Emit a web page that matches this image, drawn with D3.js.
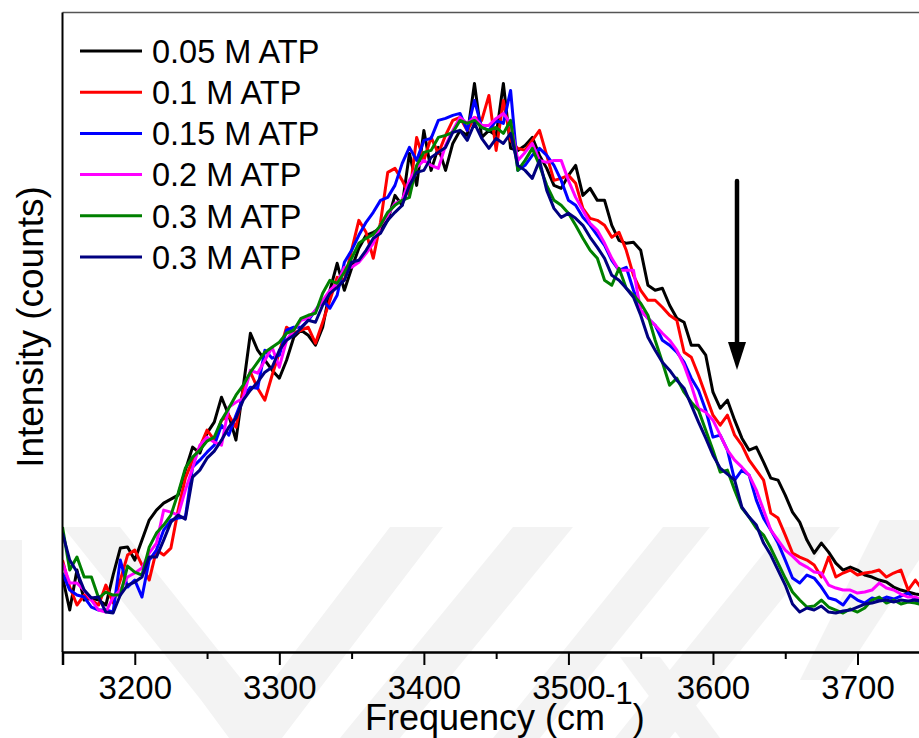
<!DOCTYPE html>
<head>
    <meta charset="utf-8">
    <script src="https://d3js.org/d3.v7.min.js"></script>
    <style>
      body { margin: 0; background: #fff; }
      text {
        font-family: "Liberation Sans", Arial, sans-serif;
        fill: #000;
      }
    </style>
</head>
<body>
    <script>
        var svg_w = 919
        var svg_h = 738

        // wavenumber grid (cm-1)
        var freq = [3150,3155,3160,3165,3170,3175,3180,3185,3190,3195,
                    3200,3205,3210,3215,3220,3225,3230,3235,3240,3245,
                    3250,3255,3260,3265,3270,3275,3280,3285,3290,3295,
                    3300,3305,3310,3315,3320,3325,3330,3335,3340,3345,
                    3350,3355,3360,3365,3370,3375,3380,3385,3390,3395,
                    3400,3405,3410,3415,3420,3425,3430,3435,3440,3445,
                    3450,3455,3460,3465,3470,3475,3480,3485,3490,3495,
                    3500,3505,3510,3515,3520,3525,3530,3535,3540,3545,
                    3550,3555,3560,3565,3570,3575,3580,3585,3590,3595,
                    3600,3605,3610,3615,3620,3625,3630,3635,3640,3645,
                    3650,3655,3660,3665,3670,3675,3680,3685,3690,3695,
                    3700,3705,3710,3715,3720,3725,3730,3735,3740,3745]

        var atp005 = [75,42,82,52,54,52,47,77,104,105,
                      92,112,132,142,149,153,157,182,205,199,
                      219,230,255,237,212,265,319,302,292,282,
                      274,292,315,322,317,307,325,362,389,362,
                      384,404,417,420,424,432,457,447,499,467,
                      522,482,505,482,509,522,517,569,515,522,
                      517,569,504,502,507,515,497,484,467,464,
                      477,487,457,464,452,452,427,412,409,410,
                      402,367,362,364,347,334,330,307,307,297,
                      260,244,252,232,214,202,205,190,174,172,
                      157,140,130,112,99,109,100,89,82,85,
                      82,77,75,72,70,65,62,60,58,57]
        var atp01 = [92,65,47,57,52,47,67,49,72,97,
                     102,87,72,102,97,104,142,174,192,205,
                     222,212,232,237,225,262,280,264,252,277,
                     300,325,319,322,325,309,330,352,375,372,
                     402,432,420,394,430,480,484,472,457,515,
                     492,515,499,517,532,535,522,535,532,557,
                     502,552,512,504,502,512,522,497,472,474,
                     477,469,444,434,432,427,415,420,402,377,
                     362,352,352,345,337,332,300,295,277,257,
                     237,227,237,217,207,192,182,172,139,134,
                     117,99,95,92,87,75,95,75,79,82,
                     77,79,80,82,75,79,82,62,72,62]
        var atp015 = [79,62,57,55,45,42,42,40,92,65,
                      72,55,92,102,122,132,134,135,185,192,
                      200,207,227,217,237,255,265,264,302,294,
                      297,322,325,325,332,342,352,344,357,390,
                      402,417,430,440,452,455,467,489,505,492,
                      512,514,532,534,537,539,522,552,525,522,
                      532,529,562,482,487,497,504,497,487,472,
                      452,447,435,427,417,407,392,382,385,362,
                      342,334,327,312,307,300,290,274,262,242,
                      215,217,202,172,182,177,152,134,122,109,
                      92,74,69,77,74,65,54,52,47,57,
                      52,49,54,52,55,53,56,59,52,47]
        var atp02 = [89,69,69,62,52,42,40,55,62,75,
                     79,84,99,109,142,140,137,162,184,207,
                     215,210,207,245,250,254,282,279,292,305,
                     285,312,322,332,334,342,352,362,369,385,
                     385,390,399,409,427,437,449,452,472,485,
                     492,487,484,507,522,535,529,535,527,527,
                     534,539,529,492,500,509,492,490,492,492,
                     472,455,442,429,422,409,394,382,382,382,
                     342,334,327,319,312,302,287,267,244,240,
                     232,217,202,192,185,177,162,142,122,112,
                     102,96,89,85,80,79,67,64,62,62,
                     59,60,62,69,64,62,58,55,55,52]
        var atp03a = [125,82,95,75,75,54,60,57,57,86,
                      80,77,105,119,127,137,159,184,195,202,
                      211,215,232,244,257,267,280,290,300,305,
                      310,319,322,334,337,339,359,372,369,380,
                      394,409,414,418,427,440,447,452,455,487,
                      500,502,515,517,520,532,529,532,525,522,
                      525,519,532,482,492,504,487,467,452,447,
                      439,427,414,402,394,372,367,384,364,357,
                      349,337,312,290,267,274,260,250,242,222,
                      202,180,182,162,144,135,124,117,104,89,
                      74,60,52,45,46,52,45,42,39,43,
                      40,44,52,55,49,52,48,50,49,47]
        var atp03b = [119,92,80,62,54,55,40,39,57,67,
                      70,75,95,95,112,130,137,133,175,182,
                      194,201,212,225,234,252,262,270,280,285,
                      302,312,317,324,332,330,347,359,365,372,
                      390,392,402,414,419,432,440,447,467,480,
                      482,495,500,505,520,522,512,529,514,504,
                      514,509,519,487,482,474,492,462,444,435,
                      439,434,427,415,405,394,377,372,364,355,
                      337,315,302,290,282,272,264,247,230,214,
                      197,184,178,172,145,135,127,109,97,82,
                      67,48,40,44,42,46,40,39,41,42,
                      45,48,49,51,52,50,52,51,52,51]

        var seriesNames = ["0.05 M ATP","0.1 M ATP","0.15 M ATP","0.2 M ATP","0.3 M ATP","0.3 M ATP"]
        var seriesValues = [atp005, atp01, atp015, atp02, atp03a, atp03b]
        var seriesColors = ["#000000","#ff0000","#0000ff","#ff00ff","#008000","#000080"]

        var majorTicks = [3200,3300,3400,3500,3600,3700]
        var minorTicks = [3150,3250,3350,3450,3550,3650,3750]

        var plot = {left: 62.5, right: 929.8, top: 12.5, bottom: 652}

        var svg = d3.select("body")
          .append("svg")
          .attr("width", svg_w)
          .attr("height", svg_h)

        // faint background watermark
        var marks = [
          [[0,540],[22,540],[22,640],[0,640]],
          [[63,527],[120,527],[258,700],[201,700]],
          [[201,700],[258,700],[390,527],[443,527],[282,738],[229,738]],
          [[513,527],[573,527],[400,738],[340,738]],
          [[663,527],[710,527],[540,738],[493,738]],
          [[785,527],[840,527],[670,738],[615,738]],
          [[620,657],[660,657],[720,738],[680,738]],
          [[880,520],[919,520],[919,560],[840,680],[800,680]]
        ]
        svg.append("g").selectAll("polygon")
          .data(marks)
          .enter()
          .append("polygon")
          .attr("points", function(d){ return d.map(function(p){return p.join(",")}).join(" ") })
          .attr("fill", "#f3f3f3")

        var x = d3.scaleLinear()
          .domain([3150, 3750])
          .range([plot.left, plot.right])
        var y = d3.scaleLinear()
          .domain([0, 640])
          .range([plot.bottom, plot.top])

        svg.append("clipPath").attr("id", "clip")
          .append("rect")
          .attr("x", plot.left).attr("y", plot.top)
          .attr("width", plot.right - plot.left).attr("height", plot.bottom - plot.top)

        var line = d3.line()
          .x(function(d, i){ return x(freq[i]) })
          .y(function(d){ return y(d) })

        svg.append("g")
          .attr("clip-path", "url(#clip)")
          .selectAll("path")
          .data(seriesValues)
          .enter()
          .append("path")
          .attr("d", line)
          .attr("fill", "none")
          .attr("stroke", function(d, i){ return seriesColors[i] })
          .attr("stroke-width", 3)
          .attr("stroke-linejoin", "round")

        // frame
        svg.append("line")
          .attr("x1", plot.left).attr("x2", plot.right)
          .attr("y1", plot.top).attr("y2", plot.top)
          .attr("stroke", "#555").attr("stroke-width", 1.5)
        svg.append("line")
          .attr("x1", plot.left).attr("x2", plot.left)
          .attr("y1", plot.top).attr("y2", plot.bottom)
          .attr("stroke", "#000").attr("stroke-width", 2)

        // x axis
        var xAxis = svg.append("g")
          .attr("transform", "translate(0," + plot.bottom + ")")
          .call(d3.axisBottom(x).tickValues(majorTicks).tickSize(13).tickPadding(11).tickFormat(d3.format("d")))
        xAxis.select(".domain").attr("stroke-width", 2.5)
        xAxis.selectAll(".tick line").attr("stroke-width", 2)
        xAxis.selectAll(".tick text")
          .style("font-family", "'Liberation Sans', Arial, sans-serif")
          .style("font-size", "33px")

        var xMinor = svg.append("g")
          .attr("transform", "translate(0," + plot.bottom + ")")
          .call(d3.axisBottom(x).tickValues(minorTicks).tickSize(7).tickFormat(""))
        xMinor.select(".domain").remove()
        xMinor.selectAll(".tick line").attr("stroke-width", 2)

        // axis titles
        var xt = svg.append("text")
          .attr("x", 365).attr("y", 730)
          .style("font-size", "36px")
        xt.append("tspan").text("Frequency (cm")
        xt.append("tspan").attr("dy", -26).style("font-size", "31px").text("-1")
        xt.append("tspan").attr("dy", 26).text(")")

        svg.append("text")
          .attr("transform", "translate(43,327) rotate(-90)")
          .attr("text-anchor", "middle")
          .style("font-size", "37px")
          .text("Intensity (counts)")

        // legend
        var legend = svg.append("g")
        seriesNames.forEach(function(name, i){
          var ly = 51 + i * 41.2
          legend.append("line")
            .attr("x1", 80).attr("x2", 142)
            .attr("y1", ly).attr("y2", ly)
            .attr("stroke", seriesColors[i]).attr("stroke-width", 3)
          legend.append("text")
            .attr("x", 152).attr("y", ly)
            .attr("dy", "0.36em")
            .style("font-size", "32.5px")
            .text(name)
        })

        // arrow
        svg.append("line")
          .attr("x1", 737).attr("x2", 737)
          .attr("y1", 181).attr("y2", 345)
          .attr("stroke", "#000").attr("stroke-width", 4.5)
          .attr("stroke-linecap", "round")
        svg.append("polygon")
          .attr("points", "728,342 746,342 737,370")
          .attr("fill", "#000")
    </script>
</body>
